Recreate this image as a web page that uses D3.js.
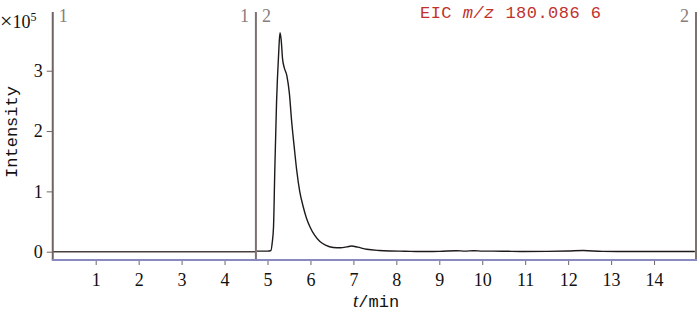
<!DOCTYPE html>
<html>
<head>
<meta charset="utf-8">
<script src="https://cdn.jsdelivr.net/npm/d3@7"></script>
<style>
  body { margin: 0; background: #fff; }
  svg { display: block; }
  text { font-family: "Liberation Serif", "DejaVu Serif", serif; font-size: 18px; }
  .mono { font-family: "Liberation Mono", "DejaVu Sans Mono", monospace; font-size: 17px; }
</style>
</head>
<body>
<svg></svg>
<script>
// segment 1: no signal before the switch
const seg1Time = [0, 4.73]
const seg1Int = [0, 0]

// segment 2: EIC trace (intensity in 1e5)
const seg2Time = [4.75, 5.0, 5.08, 5.11, 5.14, 5.17, 5.21, 5.26, 5.29, 5.32, 5.35, 5.39, 5.45, 5.51, 5.56,
  5.62, 5.68, 5.75, 5.83, 5.91, 5.99, 6.1, 6.22, 6.35, 6.53, 6.7, 6.85, 6.96, 7.1, 7.31, 7.6, 7.85,
  8.2, 8.55, 9.0, 9.4, 9.6, 9.8, 10.0, 10.5, 10.95, 11.5, 12.0, 12.35, 12.8, 13.5, 14.2, 14.95]
const seg2Int = [0.01, 0.01, 0.02, 0.15, 0.41, 1.35, 2.46, 3.29, 3.63, 3.5, 3.2, 3.05, 2.92, 2.62, 2.18,
  1.75, 1.35, 1.0, 0.75, 0.55, 0.41, 0.27, 0.17, 0.11, 0.07, 0.065, 0.08, 0.095, 0.075, 0.04, 0.02, 0.012,
  0.008, 0.003, 0.005, 0.016, 0.01, 0.016, 0.01, 0.008, 0.003, 0.005, 0.012, 0.02, 0.005, 0.004, 0.003, 0.003]

const segBounds = [0, 4.73, 15]
const segNames = ['1', '2']
const xTicks = [1, 2, 3, 4, 5, 6, 7, 8, 9, 10, 11, 12, 13, 14]
const yTicks = [0, 1, 2, 3]

const width = 700
const height = 311
const axisGray = '#6f6562'
const axisBlue = '#8a8ac2'
const serif = '"Liberation Serif", "DejaVu Serif", serif'

const svg = d3.select('svg')
  .attr('width', width)
  .attr('height', height)

const x = d3.scaleLinear().domain([0, 15]).range([52.75, 697])
const y = d3.scaleLinear().domain([0, 4]).range([251.7, 10.4])
const plotTop = 12
const axisY = 260

// line traces
const line = d3.line()
  .x((d) => x(d[0]))
  .y((d) => y(d[1]))
  .curve(d3.curveMonotoneX)

const seg1 = seg1Time.map((t, i) => [t, seg1Int[i]])
const seg2 = seg2Time.map((t, i) => [t, seg2Int[i]])

svg.append('path')
  .datum(seg1)
  .attr('d', line)
  .attr('fill', 'none')
  .attr('stroke', '#4a403e')
  .attr('stroke-width', 1.6)

svg.append('path')
  .datum(seg2)
  .attr('d', line)
  .attr('fill', 'none')
  .attr('stroke', '#1e1a1a')
  .attr('stroke-width', 1.4)

// segment separators
svg.selectAll('.sep')
  .data(segBounds.slice(1))
  .enter().append('line')
  .attr('class', 'sep')
  .attr('x1', (d) => Math.min(x(d), 696))
  .attr('x2', (d) => Math.min(x(d), 696))
  .attr('y1', plotTop)
  .attr('y2', axisY - 1)
  .attr('stroke', '#7e7270')
  .attr('stroke-width', 2)

// segment labels
segNames.forEach((name, i) => {
  svg.append('text')
    .attr('x', x(segBounds[i]) + 6)
    .attr('y', 22)
    .attr('fill', '#8a7c7a')
    .text(name)
  svg.append('text')
    .attr('x', Math.min(x(segBounds[i + 1]), 696) - 7)
    .attr('y', 22)
    .attr('text-anchor', 'end')
    .attr('fill', '#8a7c7a')
    .text(name)
})

// y axis
const yAxis = svg.append('g')
  .attr('transform', `translate(${x(0)}, 0)`)
  .attr('font-family', serif)
  .attr('font-size', 18)
  .call(d3.axisLeft(y).tickValues(yTicks).tickSize(6).tickPadding(4).tickFormat(d3.format('d')))
yAxis.select('.domain').remove()
yAxis.selectAll('line').attr('stroke', axisGray)
yAxis.selectAll('text').attr('fill', '#111')

svg.append('line')
  .attr('x1', x(0)).attr('x2', x(0))
  .attr('y1', plotTop).attr('y2', axisY)
  .attr('stroke', axisGray)
  .attr('stroke-width', 2)

// x axis
const xAxis = svg.append('g')
  .attr('transform', `translate(0, ${axisY})`)
  .attr('font-family', serif)
  .attr('font-size', 18)
  .call(d3.axisBottom(x).tickValues(xTicks).tickSize(5).tickPadding(8).tickFormat(d3.format('d')))
xAxis.select('.domain').remove()
xAxis.selectAll('line').attr('stroke', axisGray)
xAxis.selectAll('text').attr('fill', '#111')

svg.append('line')
  .attr('x1', x(0) - 1).attr('x2', 697)
  .attr('y1', axisY).attr('y2', axisY)
  .attr('stroke', axisBlue)
  .attr('stroke-width', 2)

// axis titles
svg.append('text')
  .attr('class', 'mono')
  .attr('transform', 'translate(17, 132) rotate(-90)')
  .attr('text-anchor', 'middle')
  .attr('fill', '#111')
  .text('Intensity')

const xt = svg.append('text')
  .attr('class', 'mono')
  .attr('x', 353)
  .attr('y', 307)
  .attr('fill', '#111')
xt.append('tspan').style('font-style', 'italic').style('font-family', serif).style('font-size', '19px').text('t')
xt.append('tspan').text('/min')

const mult = svg.append('text')
  .attr('x', 0)
  .attr('y', 28)
  .attr('fill', '#111')
mult.append('tspan').style('font-size', '22px').text('×')
mult.append('tspan').text('10')
mult.append('tspan').attr('dy', -7).style('font-size', '12px').text('5')

// title
const title = svg.append('text')
  .attr('class', 'mono')
  .attr('x', 420)
  .attr('y', 18)
  .attr('fill', '#c0322e')
  .attr('textLength', 181)
  .attr('lengthAdjust', 'spacing')
title.append('tspan').text('EIC ')
title.append('tspan').style('font-style', 'italic').text('m/z')
title.append('tspan').text(' 180.086 6')
</script>
</body>
</html>
